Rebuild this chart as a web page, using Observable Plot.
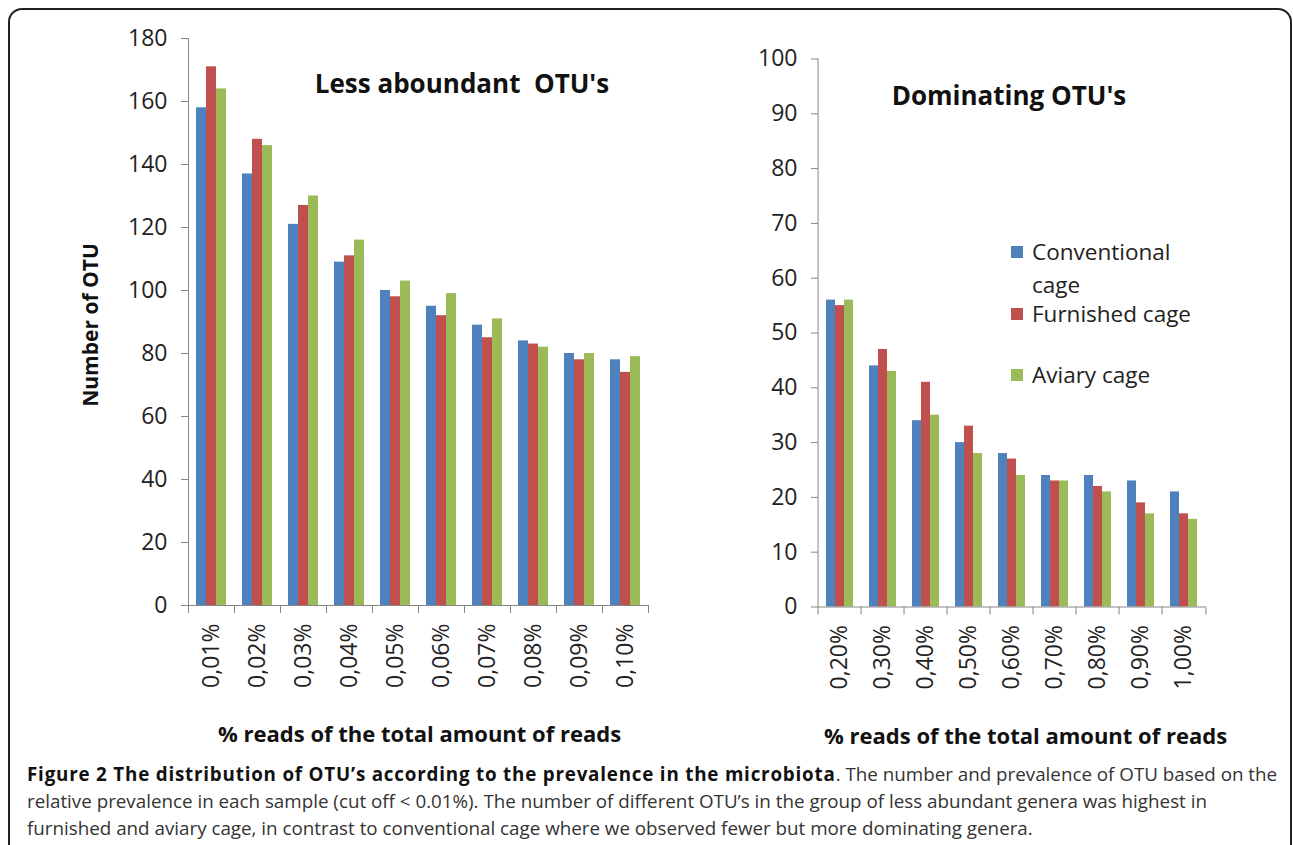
<!DOCTYPE html>
<html><head><meta charset="utf-8">
<script src="https://cdn.jsdelivr.net/npm/d3@7"></script>
<script src="https://cdn.jsdelivr.net/npm/@observablehq/plot@0.6"></script>
<style>
html,body{margin:0;padding:0;background:#fff;overflow:hidden;}
#page{position:relative;width:1293px;height:845px;overflow:hidden;font-family:"Open Sans",sans-serif;color:#222;}
#frame{position:absolute;left:8px;top:8px;width:1284px;height:1000px;border:2px solid #222;border-radius:14px;box-sizing:border-box;}
.chart{position:absolute;top:0;}
.chart svg{overflow:visible;}
g[aria-label$="-axis tick"]{color:#868686;}
.title{position:absolute;font-weight:bold;font-size:26px;line-height:32px;text-align:center;white-space:pre;color:#111;}
.xtitle{position:absolute;font-weight:bold;font-size:22px;line-height:28px;text-align:center;color:#111;white-space:nowrap;}
.ytitle{position:absolute;font-weight:bold;font-size:21px;line-height:28px;color:#111;white-space:nowrap;transform:translate(-50%,-50%) rotate(-90deg);}
.leg{position:absolute;font-size:22.5px;line-height:32px;color:#222;white-space:nowrap;}
.sw{position:absolute;width:12px;height:12px;}
#caption{position:absolute;left:27px;top:761px;width:1265px;font-size:18.8px;line-height:27px;color:#333;white-space:nowrap;}
#caption b{color:#111;letter-spacing:0.8px;}
</style>
</head><body>
<div id="page">
  <div id="frame"></div>
  <div id="left" class="chart" style="left:0px"></div>
  <div id="right" class="chart" style="left:700px"></div>
  <div class="title" style="left:262px;top:67px;width:400px">Less aboundant  OTU's</div>
  <div class="title" style="left:809px;top:79px;width:400px">Dominating OTU's</div>
  <div class="ytitle" style="left:90px;top:325px">Number of OTU</div>
  <div class="xtitle" style="left:218px;top:719px;width:400px">% reads of the total amount of reads</div>
  <div class="xtitle" style="left:824px;top:721px;width:400px">% reads of the total amount of reads</div>
  <div id="legend"></div>
  <div id="caption"><b>Figure 2 The distribution of OTU’s according to the prevalence in the microbiota</b>. The number and prevalence of OTU based on the<br>relative prevalence in each sample (cut off &lt; 0.01%). The number of different OTU’s in the group of less abundant genera was highest in<br>furnished and aviary cage, in contrast to conventional cage where we observed fewer but more dominating genera.</div>
</div>
<script>
const seriesNames = ["Conventional cage", "Furnished cage", "Aviary cage"];
const seriesColors = ["#4F81BD", "#C0504D", "#9BBB59"];

const leftCats = ["0,01%","0,02%","0,03%","0,04%","0,05%","0,06%","0,07%","0,08%","0,09%","0,10%"];
const leftConventional = [158,137,121,109,100,95,89,84,80,78];
const leftFurnished    = [171,148,127,111,98,92,85,83,78,74];
const leftAviary       = [164,146,130,116,103,99,91,82,80,79];
const leftTicks = [0,20,40,60,80,100,120,140,160,180];

const rightCats = ["0,20%","0,30%","0,40%","0,50%","0,60%","0,70%","0,80%","0,90%","1,00%"];
const rightConventional = [56,44,34,30,28,24,24,23,21];
const rightFurnished    = [55,47,41,33,27,23,22,19,17];
const rightAviary       = [56,43,35,28,24,23,21,17,16];
const rightTicks = [0,10,20,30,40,50,60,70,80,90,100];

const axisGray = "#868686";

function chart({cats, values, ticks, width, height, margins}) {
  const rows = [];
  cats.forEach((c, i) => seriesNames.forEach((s, j) => rows.push({cat: c, series: s, value: values[j][i]})));
  const plotW = width - margins.marginLeft - margins.marginRight;
  const bw = plotW / cats.length;
  const yMax = ticks[ticks.length - 1];
  const mid = () => seriesNames[1];
  return Plot.plot({
    width, height, ...margins,
    style: {fontFamily: "Open Sans", fontSize: "23px", color: "#222", background: "transparent", overflow: "visible"},
    fx: {domain: cats, padding: 0, label: null, tickRotate: -90, tickSize: 0, tickPadding: 18},
    x: {domain: seriesNames, paddingInner: 0, paddingOuter: 0.73, axis: null},
    y: {domain: [0, yMax], ticks, tickSize: 7, tickPadding: 14, label: null, tickFormat: d => String(d)},
    color: {domain: seriesNames, range: seriesColors},
    marks: [
      Plot.barY(rows, {fx: "cat", x: "series", y: "value", fill: "series"}),
      Plot.ruleY([0], {stroke: axisGray}),
      Plot.ruleX([cats[0]], {fx: d => d, x: mid, y1: 0, y2: yMax, dx: -bw / 2, stroke: axisGray}),
      Plot.ruleX(cats, {fx: d => d, x: mid, y1: 0, y2: 0, insetBottom: -8, dx: -bw / 2, stroke: axisGray}),
      Plot.ruleX([cats[cats.length - 1]], {fx: d => d, x: mid, y1: 0, y2: 0, insetBottom: -8, dx: bw / 2, stroke: axisGray})
    ]
  });
}

document.getElementById("left").append(chart({
  cats: leftCats,
  values: [leftConventional, leftFurnished, leftAviary],
  ticks: leftTicks,
  width: 680, height: 700,
  margins: {marginLeft: 188, marginRight: 32, marginTop: 38, marginBottom: 95}
}));

document.getElementById("right").append(chart({
  cats: rightCats,
  values: [rightConventional, rightFurnished, rightAviary],
  ticks: rightTicks,
  width: 560, height: 700,
  margins: {marginLeft: 114, marginRight: 51, marginTop: 58.5, marginBottom: 93.5}
}));

// legend
const legendLabels = [["Conventional", "cage"], ["Furnished cage"], ["Aviary cage"]];
const legendY = [252, 314, 375];
const legend = document.getElementById("legend");
seriesNames.forEach((s, i) => {
  const sw = document.createElement("div");
  sw.className = "sw";
  sw.style.left = "1011px";
  sw.style.top = (legendY[i] - 6) + "px";
  sw.style.background = seriesColors[i];
  legend.append(sw);
  legendLabels[i].forEach((t, k) => {
    const el = document.createElement("div");
    el.className = "leg";
    el.style.left = "1032px";
    el.style.top = (legendY[i] - 16 + k * 33) + "px";
    el.textContent = t;
    legend.append(el);
  });
});
</script>
</body></html>
